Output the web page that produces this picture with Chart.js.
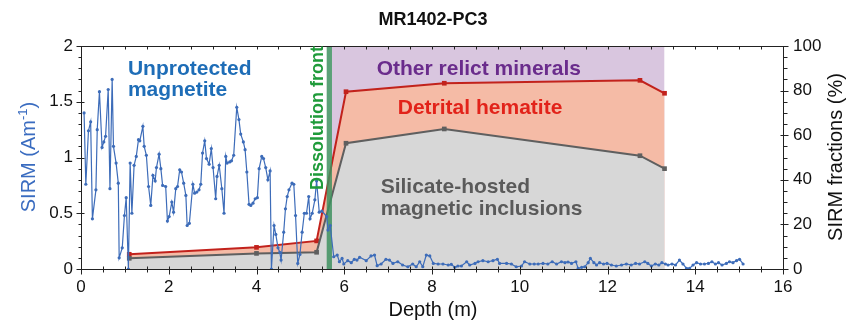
<!DOCTYPE html>
<html>
<head>
<meta charset="utf-8">
<script src="https://cdn.jsdelivr.net/npm/chart.js@4.4.1/dist/chart.umd.min.js"></script>
<style>
  html, body { margin: 0; padding: 0; background: #fff; }
  .wrap { width: 849px; height: 322px; position: relative; }
</style>
</head>
<body>
<div class="wrap"><canvas class="my-chart"></canvas></div>
<script>
// unprotected magnetite SIRM (Am-1) vs depth (m)
const magDepth = [0.07,0.11,0.17,0.22,0.26,0.34,0.37,0.42,0.48,0.52,0.56,0.62,0.66,0.71,0.74,0.80,0.85,0.87,0.94,0.99,
  1.03,1.08,1.12,1.16,1.21,1.26,1.31,1.34,1.41,1.44,1.49,1.54,1.59,1.64,1.69,1.72,1.78,1.82,1.86,1.93,
  1.97,2.01,2.07,2.11,2.16,2.20,2.25,2.29,2.34,2.39,2.42,2.47,2.55,2.59,2.64,2.69,2.73,2.77,2.82,2.86,
  2.92,2.97,3.01,3.07,3.10,3.15,3.21,3.26,3.30,3.33,3.39,3.43,3.48,3.55,3.60,3.64,3.70,3.74,3.78,3.83,
  3.87,3.92,3.97,4.02,4.06,4.12,4.16,4.21,4.26,4.31,4.34,4.40,4.44,4.49,4.53,4.56,4.62,4.66,4.70,4.74,
  4.81,4.85,4.89,4.94,4.99,5.04,5.09,5.14,5.19,5.22,5.27,5.33,5.37,5.43,5.49,5.60,5.63,5.68,5.76,5.84,
  5.89,5.95,5.99,6.08,6.16,6.23,6.29,6.35,6.50,6.61,6.69,6.75,6.84,6.95,7.03,7.11,7.22,7.33,7.45,7.56,
  7.64,7.72,7.79,7.87,7.95,8.03,8.14,8.25,8.37,8.44,8.52,8.59,8.67,8.79,8.86,8.98,9.05,9.16,9.28,9.39,
  9.49,9.54,9.70,9.81,9.92,10.04,10.11,10.23,10.33,10.42,10.53,10.64,10.74,10.84,10.95,11.03,11.10,11.18,11.28,11.33,
  11.41,11.48,11.56,11.61,11.69,11.75,11.82,11.91,11.99,12.09,12.20,12.32,12.43,12.54,12.64,12.73,12.85,12.92,13.00,13.09,
  13.17,13.24,13.32,13.38,13.47,13.55,13.64,13.72,13.80,13.87,13.95,14.03,14.12,14.21,14.30,14.38,14.46,14.53,14.61,14.71,
  14.78,14.86,14.94,15.01,15.09];
const magSirm = [1.40,0.76,1.24,1.32,0.45,0.71,1.25,1.59,1.09,1.14,1.19,1.61,0.72,1.70,1.10,0.95,0.77,0.10,0.19,0.48,
  0.64,0.00,0.95,0.50,0.93,1.01,1.16,1.15,1.28,1.10,1.02,0.74,0.57,0.84,0.79,0.91,1.03,0.90,0.75,0.74,
  0.43,0.47,0.60,0.51,0.72,0.74,0.89,0.87,0.77,0.66,0.39,0.41,0.76,0.68,0.69,0.71,0.76,1.04,1.15,0.99,
  0.94,1.08,0.91,0.63,0.83,0.93,0.72,0.50,1.01,0.95,0.96,0.97,1.02,1.45,1.34,1.21,1.14,1.07,0.87,0.58,
  0.57,0.59,0.63,0.64,0.90,1.01,0.99,0.91,0.80,0.88,0.00,0.39,0.31,0.19,0.15,0.08,0.33,0.54,0.65,0.71,
  0.77,0.76,0.48,0.05,0.13,0.33,0.50,0.50,0.65,0.45,0.50,0.62,0.79,0.51,0.52,0.47,0.35,0.39,0.11,0.125,
  0.065,0.095,0.045,0.075,0.057,0.087,0.08,0.105,0.075,0.117,0.125,0.03,0.045,0.087,0.08,0.05,0.065,0.036,0.02,0.045,
  0.02,0.065,0.02,0.125,0.117,0.05,0.045,0.045,0.036,0.042,0.015,0.027,0.027,0.065,0.036,0.05,0.065,0.075,0.065,0.075,
  0.087,0.05,0.05,0.045,0.02,0.027,0.065,0.045,0.045,0.045,0.05,0.045,0.065,0.045,0.065,0.057,0.063,0.05,0.065,0.006,
  0.015,0.02,0.057,0.095,0.057,0.036,0.057,0.045,0.05,0.036,0.027,0.036,0.045,0.036,0.05,0.045,0.065,0.05,0.027,0.045,
  0.036,0.057,0.045,0.036,0.045,0.036,0.08,0.045,0.006,0.006,0.036,0.057,0.045,0.045,0.05,0.065,0.045,0.057,0.036,0.05,
  0.065,0.057,0.075,0.087,0.045];

// SIRM fractions (%), cumulative boundaries
const fracDepth = [1.10, 4.00, 5.37, 6.04, 8.28, 12.74, 13.30];
const silicateTop = [4.8, 7.0, 7.5, 56.4, 62.8, 50.8, 45.0];
const hematiteTop = [6.6, 9.7, 12.6, 79.5, 83.3, 84.6, 78.8];
const relictDepth = [5.71, 13.30];
const relictTop = [100, 100];
const frontDepth = [5.60, 5.72];

const FONT = '"Liberation Sans", Arial, Helvetica, sans-serif';
const pts = (xs, ys) => xs.map((d, i) => ({ x: d, y: ys[i] }));

const frontBand = {
    id: 'frontBand',
    afterDatasetDraw(chart, args) {
        if (args.index !== 1) return;
        const { ctx, chartArea: a, scales: { x } } = chart;
        const x0 = x.getPixelForValue(frontDepth[0]);
        const x1 = x.getPixelForValue(frontDepth[1]);
        ctx.save();
        ctx.fillStyle = 'rgba(62,145,95,0.85)';
        ctx.fillRect(x0, a.top, x1 - x0, a.bottom - a.top);
        ctx.restore();
    }
};

const frame = {
    id: 'frame',
    afterDraw(chart) {
        const { ctx, chartArea: a, scales: { x, y, y2 } } = chart;
        ctx.save();
        ctx.strokeStyle = '#222';
        ctx.lineWidth = 1;
        const seg = (x1, y1, x2, y2_) => { ctx.beginPath(); ctx.moveTo(x1, y1); ctx.lineTo(x2, y2_); ctx.stroke(); };
        const L = Math.round(a.left) + 0.5, R = Math.round(a.right) + 0.5;
        const T = Math.round(a.top) + 0.5, B = Math.round(a.bottom) + 0.5;
        seg(L, T, R, T);
        // depth ticks, bottom and top
        for (let v = 0; v <= 16.001; v += 0.5) {
            const px = Math.round(x.getPixelForValue(v)) + 0.5;
            const major = Math.abs(v / 2 - Math.round(v / 2)) < 1e-6;
            seg(px, B - 3, px, B + (major ? 5 : 3));
            seg(px, T, px, T + 3);
        }
        for (let v = 0; v <= 2.0001; v += 0.1) {
            const py = Math.round(y.getPixelForValue(v)) + 0.5;
            const major = Math.abs(v * 2 - Math.round(v * 2)) < 1e-6;
            seg(L - (major ? 5 : 3), py, L + (major ? 3 : 0), py);
        }
        for (let v = 0; v <= 100.001; v += 5) {
            const py = Math.round(y2.getPixelForValue(v)) + 0.5;
            const major = v % 20 === 0;
            seg(R - (major ? 3 : 0), py, R + (major ? 5 : 4), py);
        }
        ctx.restore();
    }
};

const labels = {
    id: 'labels',
    afterDraw(chart) {
        const { ctx, scales: { x, y, y2 } } = chart;
        ctx.save();
        const text = (s, px, py, color, font, align = 'left') => {
            ctx.fillStyle = color; ctx.font = font; ctx.textAlign = align; ctx.textBaseline = 'alphabetic';
            ctx.fillText(s, px, py);
        };
        const bold = 'bold 21px ' + FONT;
        text('MR1402-PC3', 433, 25, '#111', 'bold 18px ' + FONT, 'center');
        text('Unprotected', x.getPixelForValue(1.07), y.getPixelForValue(1.74), '#1e6db7', bold);
        text('magnetite', x.getPixelForValue(1.07), y.getPixelForValue(1.55), '#1e6db7', bold);
        text('Other relict minerals', x.getPixelForValue(6.74), y2.getPixelForValue(87), '#6a2c8c', bold);
        text('Detrital hematite', x.getPixelForValue(7.22), y2.getPixelForValue(69.5), '#e2231a', bold);
        text('Silicate-hosted', x.getPixelForValue(6.83), y2.getPixelForValue(34), '#5a5a5a', bold);
        text('magnetic inclusions', x.getPixelForValue(6.83), y2.getPixelForValue(24.3), '#5a5a5a', bold);
        text('Depth (m)', 433, 316, '#111', '20px ' + FONT, 'center');

        // rotated texts
        ctx.save();
        ctx.translate(323, 118);
        ctx.rotate(-Math.PI / 2);
        text('Dissolution front', 0, 0, '#1f9b3a', 'bold 18px ' + FONT, 'center');
        ctx.restore();

        ctx.save();
        ctx.translate(842, 157);
        ctx.rotate(-Math.PI / 2);
        text('SIRM fractions (%)', 0, 0, '#111', '20px ' + FONT, 'center');
        ctx.restore();

        ctx.save();
        ctx.translate(35, 157);
        ctx.rotate(-Math.PI / 2);
        ctx.font = '20px ' + FONT;
        const main = 'SIRM (Am', sup = '-1', close = ')';
        const w1 = ctx.measureText(main).width;
        const w3 = ctx.measureText(close).width;
        ctx.font = '13px ' + FONT;
        const w2 = ctx.measureText(sup).width;
        const start = -(w1 + w2 + w3) / 2;
        text(main, start, 0, '#3a6cc0', '20px ' + FONT);
        text(sup, start + w1, -8, '#3a6cc0', '13px ' + FONT);
        text(close, start + w1 + w2, 0, '#3a6cc0', '20px ' + FONT);
        ctx.restore();

        ctx.restore();
    }
};

const tickFont = { family: FONT, size: 17 };

new Chart(document.querySelector('.my-chart'), {
    type: 'scatter',
    data: {
        datasets: [
            {
                label: 'Unprotected magnetite',
                data: pts(magDepth, magSirm),
                yAxisID: 'y',
                showLine: true,
                borderColor: '#3d6cb9',
                backgroundColor: '#3d6cb9',
                borderWidth: 1.2,
                pointRadius: 1.6,
                pointBorderWidth: 0,
                fill: false,
            },
            {
                label: 'Silicate-hosted magnetic inclusions',
                data: pts(fracDepth, silicateTop),
                yAxisID: 'y2',
                showLine: true,
                borderColor: '#5f5f5f',
                backgroundColor: '#d7d7d7',
                pointBackgroundColor: '#5f5f5f',
                borderWidth: 2,
                pointStyle: 'rect',
                pointRadius: 3.3,
                pointBorderWidth: 0,
                fill: 'origin',
            },
            {
                label: 'Detrital hematite',
                data: pts(fracDepth, hematiteTop),
                yAxisID: 'y2',
                showLine: true,
                borderColor: '#c2221c',
                backgroundColor: '#f5bba6',
                pointBackgroundColor: '#c2221c',
                borderWidth: 2,
                pointStyle: 'rect',
                pointRadius: 3.3,
                pointBorderWidth: 0,
                fill: 'origin',
            },
            {
                label: 'Other relict minerals',
                data: pts(relictDepth, relictTop),
                yAxisID: 'y2',
                showLine: true,
                borderWidth: 0,
                borderColor: 'rgba(0,0,0,0)',
                backgroundColor: '#d9c6df',
                pointRadius: 0,
                fill: 'origin',
            },
        ],
    },
    options: {
        responsive: true,
        maintainAspectRatio: false,
        animation: false,
        layout: { padding: { top: 46, left: 0, right: 0, bottom: 0 } },
        plugins: {
            legend: { display: false },
            tooltip: { enabled: false },
        },
        scales: {
            x: {
                type: 'linear',
                min: 0, max: 16,
                grid: { display: false, drawTicks: false },
                border: { display: true, color: '#222', width: 1 },
                ticks: { stepSize: 2, font: tickFont, color: '#111', padding: 8, maxRotation: 0 },
                afterFit: (s) => { s.height = 53; },
            },
            y: {
                position: 'left',
                min: 0, max: 2,
                grid: { display: false, drawTicks: false },
                border: { display: true, color: '#222', width: 1 },
                ticks: { stepSize: 0.5, font: tickFont, color: '#111', padding: 8, callback: (v) => String(v) },
                afterFit: (s) => { s.width = 81; },
            },
            y2: {
                position: 'right',
                min: 0, max: 100,
                grid: { display: false, drawTicks: false },
                border: { display: true, color: '#222', width: 1 },
                ticks: { stepSize: 20, font: tickFont, color: '#111', padding: 10 },
                afterFit: (s) => { s.width = 66; },
            },
        },
    },
    plugins: [frontBand, frame, labels],
});
</script>
</body>
</html>
